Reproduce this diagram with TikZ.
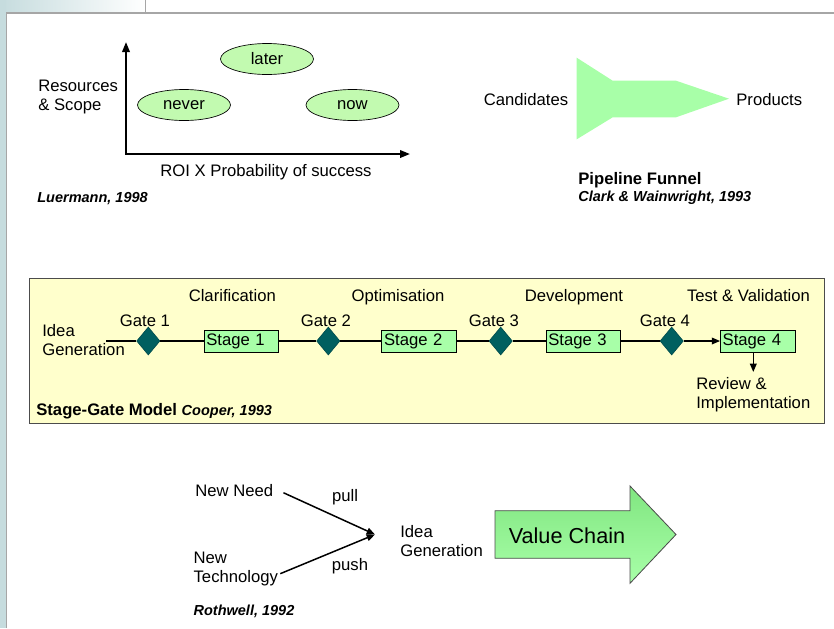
\documentclass[tikz,border=0pt]{standalone}
\usepackage{fontspec}
\setmainfont{Liberation Sans}
\usetikzlibrary{shapes.geometric,arrows.meta}

\definecolor{leaf}{RGB}{168,255,168}
\definecolor{pale}{RGB}{194,250,176}
\definecolor{cream}{RGB}{255,255,204}
\definecolor{gatecol}{RGB}{0,96,96}
\definecolor{strip}{RGB}{198,220,222}

\begin{document}
\begin{tikzpicture}
	[x=0.6pt, y=-0.6pt,
	lbl/.style={font=\fontsize{10}{11.5}\selectfont, inner sep=0pt, align=left},
	head/.style={lbl, font=\fontsize{10}{11.5}\selectfont\bfseries},
	cite/.style={font=\fontsize{8.7}{10}\selectfont\bfseries\itshape, inner sep=0pt, anchor=base west},
	blob/.style={ellipse, draw, fill=pale, minimum width=55.8pt, minimum height=18.6pt, inner sep=0pt, font=\fontsize{10}{11.5}\selectfont},
	gate/.style={diamond, draw=gatecol!80!black, fill=gatecol, minimum width=14pt, minimum height=16.8pt, inner sep=0pt},
	stagebox/.style={draw, fill=leaf, text width=42pt, inner xsep=1.35pt, inner ysep=0pt, minimum height=13.4pt, align=left, font=\fontsize{10}{11.5}\selectfont},
	axisline/.style={line width=1.2pt, {Triangle[length=6pt,width=4.5pt]}-{Triangle[length=6pt,width=4.5pt]}},
	flow/.style={line width=0.9pt},
	tip/.style={flow, -{Triangle[length=5pt,width=4pt]}},
	frame/.style={draw=black!70, fill=cream, line width=0.6pt},
	rule/.style={draw=black!35, line width=0.9pt}]
	\useasboundingbox (0,0) rectangle (834,628);
	% slide border
	\shade[left color=strip, right color=white] (0,0) rectangle (146,13);
	\fill[strip] (0,0) rectangle (6,628);
	\draw[rule] (6.5,628) -- (6.5,13) -- (834,13);
	\draw[rule] (145.5,0) -- (145.5,13);

	% portfolio chart
	\coordinate (o) at (126,154);
	\coordinate (ytip) at (126,42);
	\coordinate (xtip) at (410,154);
	\draw[axisline] (ytip) -- (o) -- (xtip);
	\node[lbl, anchor=north west] (res) at (38,80) {Resources\\\& Scope};
	\node[blob] (later) at (267,59) {later};
	\node[blob] (never) at (184,105) {never};
	\node[blob] (now) at (352.5,105) {now};
	\node[lbl, anchor=base] (roi) at (266,176) {ROI X Probability of success};
	\node[cite] (luer) at (37,202) {Luermann, 1998};

	% pipeline funnel
	\fill[leaf] (576.7,57.7) -- (612.7,80.7) -- (676,80.7) -- (729,98.7)
		-- (676,117.3) -- (612.7,117.3) -- (576.7,139.3) -- cycle;
	\node[lbl, anchor=base east] (cand) at (568.5,105) {Candidates};
	\node[lbl, anchor=base west] (prod) at (736,105) {Products};
	\node[head, anchor=base west] (pipe) at (578,184) {Pipeline Funnel};
	\node[cite] (clark) at (578,201.9) {Clark \& Wainwright, 1993};

	% stage-gate model
	\draw[frame] (29,278) rectangle (824,423);
	\node[lbl, anchor=north west] (idea) at (42,324) {Idea\\Generation};
	\coordinate (start) at (106,341);
	\node[gate] (g1) at (148.3,341) {};
	\node[stagebox] (s1) at (241.3,341) {Stage 1};
	\node[gate] (g2) at (328.3,341) {};
	\node[stagebox] (s2) at (419,341) {Stage 2};
	\node[gate] (g3) at (500.7,341) {};
	\node[stagebox] (s3) at (583.3,341) {Stage 3};
	\node[gate] (g4) at (671.7,341) {};
	\node[stagebox] (s4) at (757.7,341) {Stage 4};
	\draw[flow] (start) -- (g1) -- (s1) -- (g2) -- (s2) -- (g3) -- (s3) -- (g4);
	\draw[tip] (g4) -- (s4);
	\foreach \g/\x in {1/145,2/326,3/494,4/665}
		\node[lbl, anchor=base] (gl\g) at (\x,326.7) {Gate \g};
	\foreach \p/\x/\t in {1/232.3/Clarification,2/398/Optimisation,3/574/Development,4/748.5/Test \& Validation}
		\node[lbl, anchor=base] (ph\p) at (\x,301) {\t};
	\coordinate (rev) at (753.3,372);
	\draw[tip] (s4.south -| rev) -- (rev);
	\node[lbl, anchor=north west] (revtxt) at (696,377.3) {Review \&\\Implementation};
	\node[head, anchor=base west] (sgm) at (36,415.3)
		{Stage-Gate Model {\fontsize{8.7}{10}\selectfont\itshape Cooper, 1993}};

	% need pull / technology push
	\node[lbl, anchor=base west] (need) at (195,496) {New Need};
	\node[lbl, anchor=north west] (tech) at (193.3,551.3) {New\\Technology};
	\coordinate (meet) at (375,534.5);
	\draw[tip] ([shift={(10,2.7)}]need.east) -- (meet);
	\draw[tip] ([shift={(2,5)}]tech.east) -- (meet);
	\node[lbl, anchor=base] (pull) at (345,501.5) {pull};
	\node[lbl, anchor=base] (push) at (350,570) {push};
	\node[lbl, anchor=north west] (idea2) at (400,524.7) {Idea\\Generation};
	\shade[draw=black!70, line width=0.5pt, top color=leaf!85!green!90!black, middle color=leaf!70!white, bottom color=leaf]
		(495,510.7) -- (630,510.7) -- (630,486) -- (676,534.5) -- (630,583.3) -- (630,558.3) -- (495,558.3) -- cycle;
	\node[font=\fontsize{13}{15}\selectfont, inner sep=0pt, anchor=base] (vc) at (567,543) {Value Chain};
	\node[cite] (roth) at (193.3,615) {Rothwell, 1992};
\end{tikzpicture}
\end{document}
